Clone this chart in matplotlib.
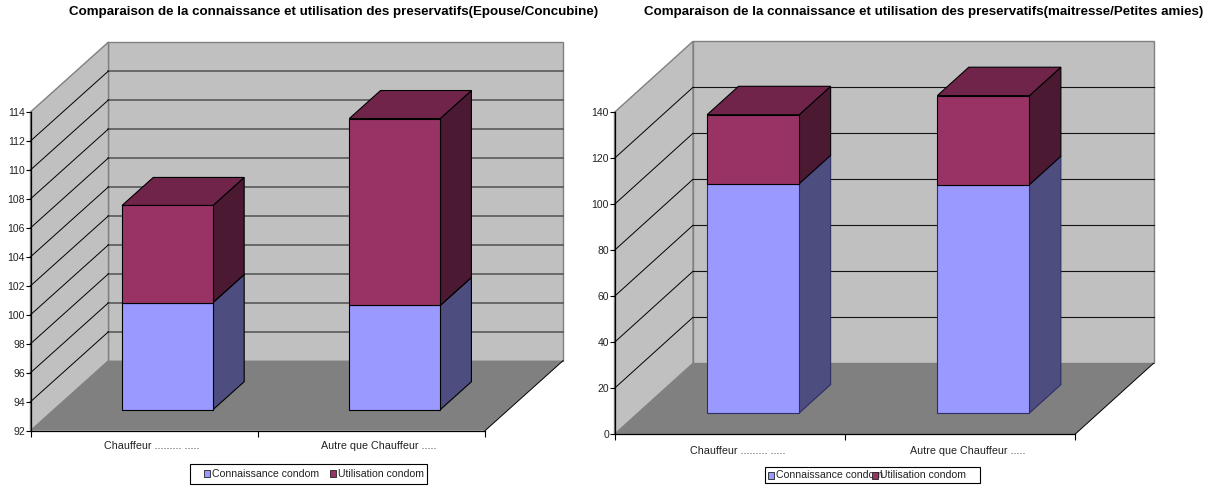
import matplotlib
matplotlib.use("Agg")
import matplotlib.pyplot as plt
from matplotlib.patches import Polygon, Rectangle

plt.rcParams['font.family'] = ['Liberation Sans', 'DejaVu Sans']

categories = ["Chauffeur ......... .....", "Autre que Chauffeur ....."]
series_names = ["Connaissance condom", "Utilisation condom"]

# valeurs
connaissance_epouse = [99.4, 99.2]
utilisation_epouse = [6.7, 12.9]
connaissance_maitresse = [99.7, 99.3]
utilisation_maitresse = [30.0, 38.7]

ticks_epouse = list(range(92, 116, 2))
ticks_maitresse = list(range(0, 160, 20))

W, H = 1215, 486
fig = plt.figure(figsize=(W / 100, H / 100), dpi=100, facecolor="white")

# couches pour titres et legendes, en pixels
over = fig.add_axes([0, 0, 1, 1], zorder=5)
over.set_xlim(0, W)
over.set_ylim(H, 0)
over.axis("off")

BLUE = ("#9999FF", "#4D4D80", "#6B6BB3")
PURPLE = ("#993366", "#4C1933", "#70244A")


def cuboid(ax, x0, x1, v0, v1, colors, pr, edge="black"):
    d0, d1 = 0.3, 0.7
    front = [pr(x0, v0, d0), pr(x1, v0, d0), pr(x1, v1, d0), pr(x0, v1, d0)]
    side = [pr(x1, v0, d0), pr(x1, v0, d1), pr(x1, v1, d1), pr(x1, v1, d0)]
    top = [pr(x0, v1, d0), pr(x1, v1, d0), pr(x1, v1, d1), pr(x0, v1, d1)]
    for pts, col in zip((side, top, front), (colors[1], colors[2], colors[0])):
        ax.add_patch(Polygon(pts, closed=True, fc=col, ec=edge, lw=0.8, zorder=4, clip_on=False))


def panel(left, right, top, bottom, depth_x, depth_y, ticks, serie1, serie2, grid_col, grid_lw, label_pad, blue_edge):
    ax = fig.add_axes([left / W, 1 - bottom / H, (right - left) / W, (bottom - top) / H])
    ax.set_xlim(0, 2)
    ax.set_ylim(ticks[0], ticks[-1])
    ax.patch.set_visible(False)
    vmin, vmax = ticks[0], ticks[-1]
    dx = depth_x / ((right - left) / 2)
    dy = depth_y / ((bottom - top) / (vmax - vmin))

    def pr(x, v, d):
        return (x + d * dx, v + d * dy)

    # murs et sol
    ax.add_patch(Polygon([pr(0, vmin, 1), pr(2, vmin, 1), pr(2, vmax, 1), pr(0, vmax, 1)],
                         fc="#C0C0C0", ec="#808080", lw=1.0, zorder=1, clip_on=False))
    ax.add_patch(Polygon([pr(0, vmin, 0), pr(0, vmin, 1), pr(0, vmax, 1), pr(0, vmax, 0)],
                         fc="#C0C0C0", ec="#808080", lw=1.0, zorder=1, clip_on=False))
    for v in ticks[1:-1]:
        ax.plot(*zip(pr(0, v, 1), pr(2, v, 1)), color=grid_col, lw=grid_lw, zorder=2, clip_on=False)
    for v in ticks[1:-1]:
        ax.plot(*zip(pr(0, v, 0), pr(0, v, 1)), color="black", lw=0.7, zorder=2, clip_on=False)
    ax.add_patch(Polygon([pr(0, vmin, 0), pr(2, vmin, 0), pr(2, vmin, 1), pr(0, vmin, 1)],
                         fc="#808080", ec="none", zorder=3, clip_on=False))
    ax.plot(*zip(pr(2, vmin, 0), pr(2, vmin, 1)), color="black", lw=0.7, zorder=3, clip_on=False)

    for i in range(len(categories)):
        x0, x1 = i + 0.3, i + 0.7
        cuboid(ax, x0, x1, vmin, serie1[i], BLUE, pr, edge=blue_edge)
        cuboid(ax, x0, x1, serie1[i], serie1[i] + serie2[i], PURPLE, pr)

    for s in ("top", "right"):
        ax.spines[s].set_visible(False)
    for s in ("left", "bottom"):
        ax.spines[s].set_linewidth(0.9)
        ax.spines[s].set_zorder(6)
    ax.set_yticks(ticks)
    ax.set_xticks([0, 1, 2])
    ax.set_xticklabels([])
    # les libelles sont un peu decales vers la droite dans l'original
    ax.set_xticks([0.534, 1.534], minor=True)
    ax.set_xticklabels(categories, minor=True, fontsize=7.75, color="#222222")
    ax.tick_params(axis="x", which="major", length=4.3, width=0.8)
    ax.tick_params(axis="x", which="minor", length=0, pad=label_pad)
    ax.tick_params(axis="y", length=3.5, width=0.8, labelsize=7.5, labelcolor="#222222", pad=0.5)
    return ax


def legend(x0, x1, y0, y1, sw1, tx1, sw2, tx2, yc):
    over.add_patch(Rectangle((x0, y0), x1 - x0, y1 - y0, fc="white", ec="black", lw=0.8))
    over.text(tx1, yc, series_names[0], fontsize=7.55, color="#222222", va="center", ha="left")
    over.add_patch(Rectangle((sw1, yc - 3.5), 6, 7, fc=BLUE[0], ec="#222222", lw=0.6, zorder=3))
    over.add_patch(Rectangle((sw2, yc - 3.5), 6, 7, fc=PURPLE[0], ec="#222222", lw=0.6, zorder=3))
    over.text(tx2, yc, series_names[1], fontsize=7.55, color="#222222", va="center", ha="left", zorder=4)


panel(30.5, 485, 112, 430.7, 78, 70, ticks_epouse, connaissance_epouse, utilisation_epouse,
      "#505050", 1.1, 7.2, "black")
panel(614.5, 1075, 112.3, 434.3, 78.5, 71, ticks_maitresse, connaissance_maitresse, utilisation_maitresse,
      "#111111", 0.8, 8.6, "#2E2E66")

over.text(333.7, 11.5, "Comparaison de la connaissance et utilisation des preservatifs(Epouse/Concubine)",
          fontsize=9.6, fontweight="bold", ha="center", va="center", color="black")
over.text(923.5, 11.5, "Comparaison de la connaissance et utilisation des preservatifs(maitresse/Petites amies)",
          fontsize=9.6, fontweight="bold", ha="center", va="center", color="black")

legend(190, 427, 463.5, 483.5, 204, 212, 330, 338, 473.5)
legend(765, 980, 466.5, 483, 768, 776.5, 872, 880.5, 475.3)

fig.savefig("out.png", dpi=100)
